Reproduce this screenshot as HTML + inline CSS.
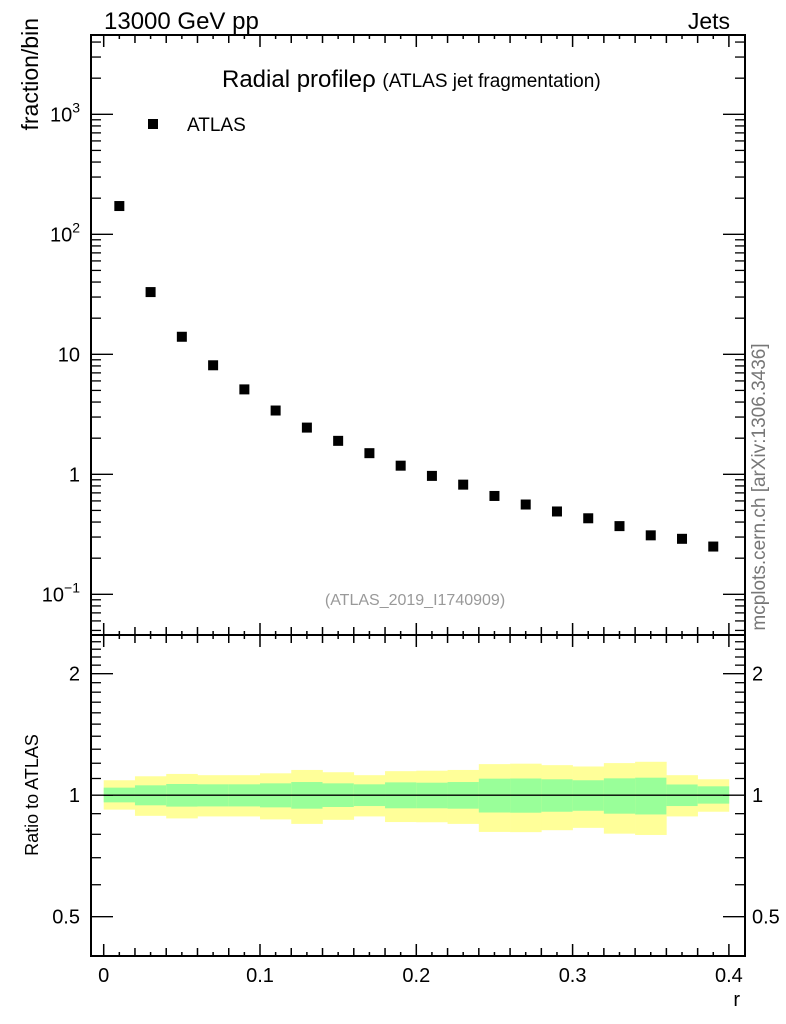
<!DOCTYPE html>
<html><head><meta charset="utf-8"><style>
html,body{margin:0;padding:0;background:#fff;}
svg{display:block;font-family:"Liberation Sans",sans-serif;}
</style></head><body>
<svg id="c" width="786" height="1024" xmlns="http://www.w3.org/2000/svg"></svg>
<script>
const centers=[0.01,0.03,0.05,0.07,0.09,0.11,0.13,0.15,0.17,0.19,0.21,0.23,0.25,0.27,0.29,0.31,0.33,0.35,0.37,0.39];
const values=[172,33,14,8.1,5.1,3.4,2.45,1.9,1.5,1.18,0.97,0.82,0.66,0.56,0.49,0.43,0.37,0.31,0.29,0.25];
const yelUp=[1.089,1.114,1.129,1.121,1.121,1.133,1.155,1.140,1.121,1.147,1.150,1.155,1.194,1.197,1.187,1.178,1.201,1.210,1.121,1.095];
const yelDn=[0.921,0.889,0.876,0.886,0.886,0.871,0.849,0.869,0.886,0.858,0.857,0.849,0.811,0.810,0.819,0.830,0.803,0.797,0.886,0.910];
const grnUp=[1.044,1.058,1.066,1.064,1.064,1.070,1.078,1.070,1.064,1.076,1.074,1.078,1.099,1.100,1.095,1.089,1.101,1.105,1.063,1.052];
const grnDn=[0.960,0.944,0.937,0.938,0.938,0.933,0.926,0.935,0.940,0.928,0.928,0.926,0.906,0.905,0.910,0.915,0.900,0.896,0.940,0.953];
const xTicks=[0,0.1,0.2,0.3,0.4];
const binW=0.02;

const svg=document.getElementById('c');
const NS='http://www.w3.org/2000/svg';
const L=91,R=745,T=35,M=635,B=956;
const X=v=>103.7+v*1563;
const YU=v=>474.3-120*Math.log10(v);
const YR=v=>795.2-403.6*Math.log10(v);
function el(tag,attrs,name,parent){const e=document.createElementNS(NS,tag);for(const k in attrs)e.setAttribute(k,attrs[k]);


(parent||svg).appendChild(e);return e;}
function txt(x,y,s,size,name,anchor,extra){const t=el('text',Object.assign({x:x,y:y,'font-size':size,'text-anchor':anchor||'start',fill:'#000'},extra||{}),name);t.textContent=s;return t;}

for(let i=0;i<centers.length;i++){
 const x0=X(centers[i]-binW/2),x1=X(centers[i]+binW/2);
 el('rect',{x:x0,y:YR(yelUp[i]),width:x1-x0+0.3,height:YR(yelDn[i])-YR(yelUp[i]),fill:'#ffff99'},'yellow-band-'+i);
 el('rect',{x:x0,y:YR(grnUp[i]),width:x1-x0+0.3,height:YR(grnDn[i])-YR(grnUp[i]),fill:'#99ff99'},'green-band-'+i);
}
el('line',{x1:X(0),x2:X(0.4),y1:YR(1),y2:YR(1),stroke:'#000','stroke-width':1.3},'ratio-unity-line');

for(let i=0;i<centers.length;i++){
 el('rect',{x:X(centers[i])-5,y:YU(values[i])-5,width:10,height:10,fill:'#000'},'data-point-'+i);
}

el('rect',{x:L,y:T,width:R-L,height:M-T,fill:'none',stroke:'#000','stroke-width':2},'upper-frame');
el('rect',{x:L,y:M,width:R-L,height:B-M,fill:'none',stroke:'#000','stroke-width':2},'lower-frame');

for(let k=0;k<=40;k++){
 const v=k*0.01,x=X(v);const len=k%10==0?12:(k%2==0?8:4);
 [[T,1],[M,-1],[M,1],[B,-1]].forEach(([y,d])=>{el('line',{x1:x,x2:x,y1:y,y2:y+d*len,stroke:'#000','stroke-width':1.5},'x-tick');});
}
xTicks.forEach(v=>txt(X(v),982,String(v),20,'x-tick-label','middle'));
txt(740,1006,'r',20,'x-axis-title','end');

for(let e=-2;e<=3;e++){for(let m=1;m<10;m++){const v=m*Math.pow(10,e);const y=YU(v);if(y<T||y>M)continue;
 const len=m==1?22:10;
 el('line',{x1:L,x2:L+len,y1:y,y2:y,stroke:'#000','stroke-width':1.3},'y-tick');
 el('line',{x1:R,x2:R-len,y1:y,y2:y,stroke:'#000','stroke-width':1.3},'y-tick');}}
function sup(x,y,base,exp,name){const t=el('text',{x:x,y:y,'font-size':20,'text-anchor':'end',fill:'#000'},name);
 t.innerHTML='<tspan>'+base+'</tspan><tspan dy="-9" font-size="14">'+exp+'</tspan>';}
sup(80,YU(1000)+7,'10','3','y-tick-label');
sup(80,YU(100)+7,'10','2','y-tick-label');
txt(80,YU(10)+7,'10',20,'y-tick-label','end');
txt(80,YU(1)+7,'1',20,'y-tick-label','end');
sup(80,YU(0.1)+7,'10','\u22121','y-tick-label');

[0.5,0.6,0.7,0.8,0.9,1,2].forEach(v=>{const y=YR(v);const len=(v==1||v==2||v==0.5)?22:10;
 el('line',{x1:L,x2:L+len,y1:y,y2:y,stroke:'#000','stroke-width':1.3},'ratio-tick');
 el('line',{x1:R,x2:R-len,y1:y,y2:y,stroke:'#000','stroke-width':1.3},'ratio-tick');});
[1.1,1.2,1.3,1.4,1.5,1.6,1.7,1.8,1.9,2.1,2.2,2.3,2.4].forEach(v=>{const y=YR(v);if(y<M)return;
 el('line',{x1:L,x2:L+10,y1:y,y2:y,stroke:'#000','stroke-width':1.3},'ratio-tick');
 el('line',{x1:R,x2:R-10,y1:y,y2:y,stroke:'#000','stroke-width':1.3},'ratio-tick');});
[[2,'2'],[1,'1'],[0.5,'0.5']].forEach(([v,s])=>{txt(80,YR(v)+7,s,20,'ratio-tick-label','end');txt(752,YR(v)+7,s,20,'ratio-tick-label-right','start');});

txt(104,29,'13000 GeV pp',24,'energy-label');
txt(730,29,'Jets',23,'process-label','end');
txt(0,0,'fraction/bin',23,'y-axis-title','end',{transform:'translate(38 18) rotate(-90)'});
txt(0,0,'Ratio to ATLAS',18,'ratio-axis-title','middle',{transform:'translate(38 795) rotate(-90)'});
const tt=el('text',{x:222,y:87,'font-size':24,fill:'#000'},'plot-title');
tt.innerHTML='Radial profile\u03c1 <tspan font-size="19">(ATLAS jet fragmentation)</tspan>';
el('rect',{x:148,y:119,width:10,height:10,fill:'#000'},'legend-marker');
txt(187,131,'ATLAS',19,'legend-label');
txt(415,605,'(ATLAS_2019_I1740909)',16,'analysis-id','middle',{fill:'#999'});
txt(0,0,'mcplots.cern.ch [arXiv:1306.3436]',19,'watermark','middle',{fill:'#777',transform:'translate(765 487) rotate(-90)'});
</script>
</body></html>
